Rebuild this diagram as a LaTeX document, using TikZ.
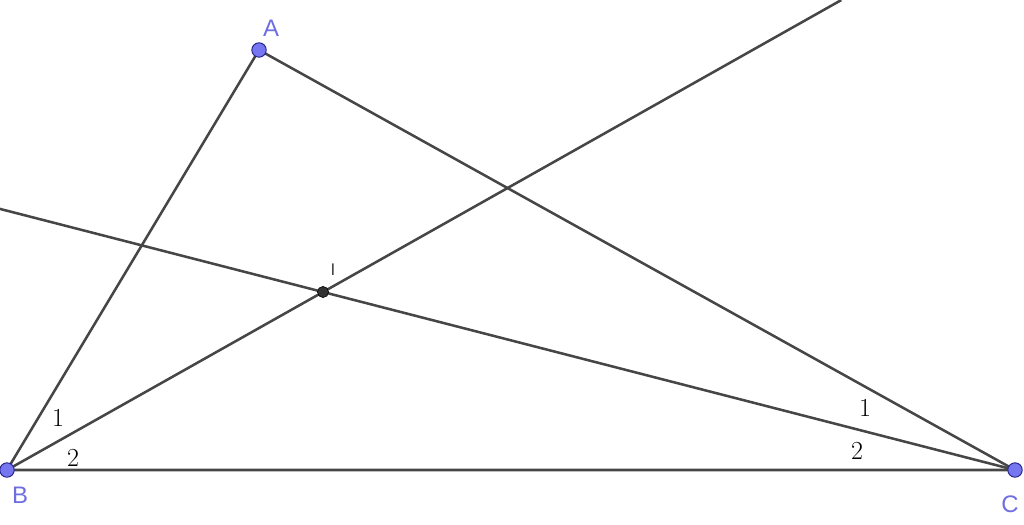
\documentclass[tikz,border=0pt]{standalone}
\usepackage{fontspec}
\newfontfamily\labelfont{Liberation Sans}
\usepackage[svgnames]{xcolor}
\usepackage{tikz}
\usetikzlibrary{calc}

\definecolor{ptblue}{RGB}{118,118,240}
\definecolor{ptedge}{RGB}{40,40,140}
\definecolor{lblblue}{RGB}{110,110,225}
\definecolor{segray}{RGB}{70,70,70}

\begin{document}
\begin{tikzpicture}[x=0.025cm,y=-0.025cm,
    seg/.style={segray,line width=1.8pt},
    pt/.style={circle,fill=ptblue,draw=ptedge,line width=0.7pt,inner sep=0pt,minimum size=0.36cm},
    ipt/.style={circle,fill=black!80,draw=black,inner sep=0pt,minimum size=0.28cm},
    ptlabel/.style={text=lblblue,font=\labelfont\fontsize{17}{17}\selectfont},
    anglabel/.style={font=\fontsize{18.5}{18.5}\selectfont}]

        \useasboundingbox (0,0) rectangle (1024,525);

        \coordinate (A) at (259,50);
        \coordinate (B) at (7,470);
        \coordinate (C) at (1015,470);
        \coordinate (I) at (323,292);
        \coordinate (bisB) at ($(B)!2.64!(I)$);
        \coordinate (bisC) at ($(C)!1.467!(I)$);

        \draw[seg] (A) -- (B) -- (C) -- cycle;
        \draw[seg] (B) -- (bisB);
        \draw[seg] (C) -- (bisC);

        \node[pt] (nA) at (A) {};
        \node[pt] (nB) at (B) {};
        \node[pt] (nC) at (C) {};
        \node[ipt] (nI) at (I) {};

        \node[ptlabel] (lA) at (271,28) {A};
        \node[ptlabel] (lB) at (20,495) {B};
        \node[ptlabel] (lC) at (1010,504) {C};
        \node[font=\labelfont\fontsize{12}{12}\selectfont,text=black!75] (lI) at (333,270) {I};

        \node[anglabel] (b1) at (58,418) {1};
        \node[anglabel] (b2) at (73,458) {2};
        \node[anglabel] (c1) at (865,408) {1};
        \node[anglabel] (c2) at (857,451) {2};
          \end{tikzpicture}
\end{document}
